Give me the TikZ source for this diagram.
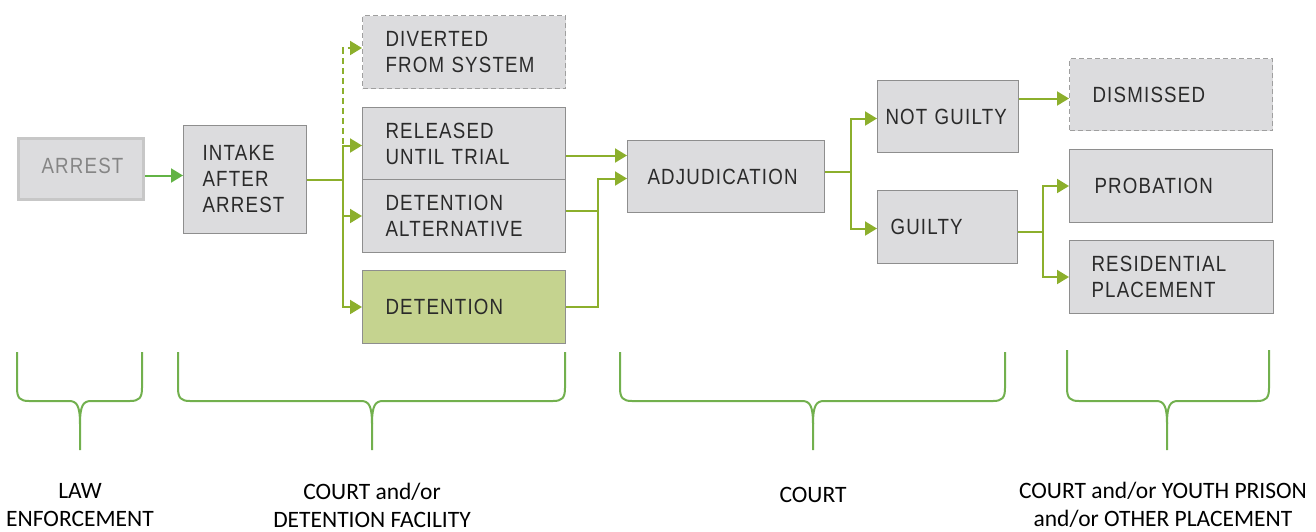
\documentclass[tikz,border=0pt]{standalone}
\usepackage{fontspec}
\usetikzlibrary{arrows.meta,calc}
\newfontfamily\boxfont[FakeStretch=0.85,LetterSpace=5.5]{Liberation Sans}
\newfontfamily\labfont{Carlito}
\definecolor{boxfill}{HTML}{DCDCDE}
\definecolor{boxline}{HTML}{8E8E8E}
\definecolor{boxtext}{HTML}{2A2A2A}
\definecolor{olive}{HTML}{8CAF2C}
\definecolor{brightg}{HTML}{62B345}
\definecolor{braceg}{HTML}{72B04E}
\definecolor{detfill}{HTML}{C5D38F}
\tikzset{
  box/.style={draw=boxline, fill=boxfill, line width=1pt, font=\boxfont\fontsize{22pt}{26pt}\selectfont,
    text=boxtext, align=left, inner ysep=0pt, anchor=north west},
  dbox/.style={box, draw=boxline!85, dash pattern=on 5pt off 3pt},
  ln/.style={draw=olive, line width=2pt},
  arr/.style={ln, -{Triangle[length=12pt,width=14pt]}},
  dashedarr/.style={arr, dash pattern=on 6pt off 4pt},
  brace/.style={draw=braceg, line width=2pt},
  lab/.style={font=\labfont\fontsize{23.5pt}{28pt}\selectfont, align=center, text=black}
}
\begin{document}
\begin{tikzpicture}[x=1pt,y=-1pt]
\useasboundingbox (0,0) rectangle (1316,531);
% boxes
\node[box, draw=black!22, line width=3pt, text=black!48, minimum width=125pt, minimum height=61pt, text width=79pt, inner xsep=23pt] (arrest) at (17,137) {\raisebox{6pt}{ARREST}};
\node[box, minimum width=123pt, minimum height=108pt, text width=85pt, inner xsep=19pt] (intake) at (183,125) {INTAKE\\AFTER\\ARREST};
\node[dbox, minimum width=203pt, minimum height=73pt, text width=157pt, inner xsep=23pt] (diverted) at (362,15) {DIVERTED\\FROM~SYSTEM};
\node[box, minimum width=203pt, minimum height=72pt, text width=157pt, inner xsep=23pt] (released) at (362,107) {RELEASED\\UNTIL~TRIAL};
\node[box, minimum width=203pt, minimum height=73pt, text width=157pt, inner xsep=23pt] (detalt) at (362,179) {DETENTION\\ALTERNATIVE};
\node[box, fill=detfill, minimum width=203pt, minimum height=73pt, text width=157pt, inner xsep=23pt] (detention) at (362,270) {DETENTION};
\node[box, minimum width=197pt, minimum height=72pt, text width=157pt, inner xsep=20pt] (adj) at (627,140) {ADJUDICATION};
\node[box, minimum width=141pt, minimum height=72pt, text width=125pt, inner xsep=8pt] (ng) at (877,80) {NOT~GUILTY};
\node[box, minimum width=140pt, minimum height=73pt, text width=114pt, inner xsep=13pt] (g) at (877,190) {GUILTY};
\node[dbox, minimum width=203pt, minimum height=72pt, text width=157pt, inner xsep=23pt] (dismissed) at (1069,58) {DISMISSED};
\node[box, minimum width=203pt, minimum height=73pt, text width=153pt, inner xsep=25pt] (probation) at (1069,149) {PROBATION};
\node[box, minimum width=204pt, minimum height=73pt, text width=160pt, inner xsep=22pt] (residential) at (1069,240) {RESIDENTIAL\\PLACEMENT};
% trunk coordinates
\coordinate (tA) at (343,0);
\coordinate (tB) at (598,0);
\coordinate (tC) at (851,0);
\coordinate (tD) at (1043,0);
% arrest -> intake
\path ([yshift=-6.5pt]arrest.east) coordinate (a1);
\draw[ln, draw=brightg, -{Triangle[length=12pt,width=14pt]}] (a1) -- (a1 -| intake.west);
% intake -> branches
\draw[ln] (intake.east) -- (intake.east -| tA);
\draw[arr] (intake.east -| tA) |- ([yshift=-2pt]released.west);
\draw[arr] (intake.east -| tA) |- (detalt.west);
\draw[arr] (intake.east -| tA) |- (detention.west);
\draw[dashedarr] (released.west -| tA) |- ([yshift=4pt]diverted.west);
% to adjudication
\path ([yshift=-12pt]released.east) coordinate (r1);
\draw[arr] (r1) -- (r1 -| adj.west);
\path ([yshift=5.5pt]detalt.east) coordinate (r2);
\path ([yshift=-2pt]adj.west) coordinate (r3);
\draw[ln] (r2) -- (r2 -| tB);
\draw[arr] (detention.east) -| (r3 -| tB) -- (r3);
% adjudication -> verdicts
\path ([yshift=5pt]adj.east) coordinate (j1);
\draw[ln] (j1) -- (j1 -| tC);
\draw[arr] (j1 -| tC) |- ([yshift=-2pt]ng.west);
\draw[arr] (j1 -| tC) |- ([yshift=-1.5pt]g.west);
% not guilty -> dismissed
\path ([yshift=-4pt]dismissed.west) coordinate (d1);
\draw[arr] (d1 -| ng.east) -- (d1);
% guilty -> sentences
\path ([yshift=-4.5pt]g.east) coordinate (g1);
\draw[ln] (g1) -- (g1 -| tD);
\draw[arr] (g1 -| tD) |- (probation.west);
\draw[arr] (g1 -| tD) |- (residential.west);
% braces
\foreach \xa/\xb/\cx/\tp in {17/142/80/352, 178/565/372/352, 620/1005/813/352, 1067/1269/1167/350}{
  \draw[brace] (\xa,\tp) -- (\xa,388) .. controls (\xa,398) and (\xa+3,401) .. (\xa+12,401)
     -- (\cx-11,401) .. controls (\cx-3,401) and (\cx,406) .. (\cx,424) -- (\cx,450);
  \draw[brace] (\cx,424) .. controls (\cx,406) and (\cx+3,401) .. (\cx+11,401)
     -- (\xb-12,401) .. controls (\xb-3,401) and (\xb,398) .. (\xb,388) -- (\xb,\tp);
}
% labels
\node[lab] (l1) at (80,505) {LAW\\ENFORCEMENT};
\node[lab] (l2) at (372,505) {COURT and/or\\DETENTION FACILITY};
\node[lab] (l3) at (813,495) {COURT};
\node[lab] (l4) at (1163,505) {COURT and/or YOUTH PRISON\\and/or OTHER PLACEMENT};
\end{tikzpicture}
\end{document}
